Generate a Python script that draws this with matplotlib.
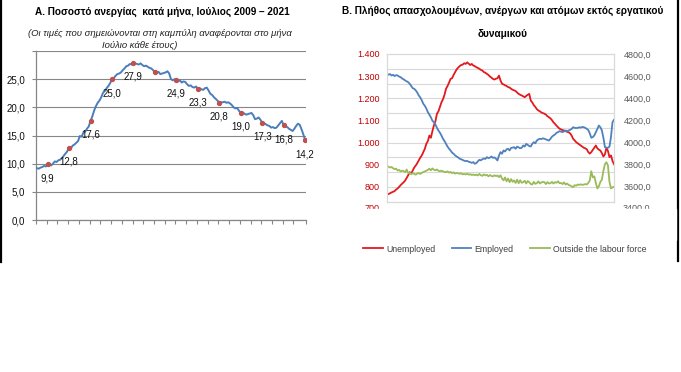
import matplotlib.pyplot as plt
import numpy as np
from matplotlib.lines import Line2D
from matplotlib.patches import Rectangle
from matplotlib.ticker import FuncFormatter

plt.rcParams["font.family"] = ["Liberation Sans", "DejaVu Sans"]

# Panel A: monthly unemployment rate (%), Jan 2009 - Jul 2021
UNEMPLOYMENT_RATE = [
    9.2, 9.1, 9.3, 9.4, 9.6, 9.5, 9.9, 9.8, 9.7, 10.0, 10.4, 10.3,
    10.6, 10.7, 11.0, 11.4, 11.8, 12.2, 12.8, 12.7, 13.2, 13.4, 13.7, 14.0,
    14.9, 14.8, 15.5, 15.7, 16.2, 16.6, 17.6, 18.4, 19.4, 20.2, 20.8, 21.2,
    21.8, 22.6, 22.9, 23.4, 23.8, 24.3, 25.0, 25.2, 25.6, 25.9, 26.0, 26.2,
    26.6, 26.9, 27.3, 27.4, 27.7, 27.6, 27.9, 27.8, 27.7, 27.6, 27.8, 27.5,
    27.3, 27.4, 27.2, 27.0, 26.9, 26.6, 26.2, 26.1, 26.3, 25.9, 26.0, 26.1,
    26.2, 26.4, 26.0, 25.0, 24.8, 25.0, 24.9, 24.6, 24.8, 24.4, 24.6, 24.5,
    24.1, 23.8, 23.9, 23.6, 23.5, 23.7, 23.3, 23.4, 23.2, 23.1, 23.4, 23.5,
    23.0, 22.4, 22.2, 21.8, 21.5, 21.2, 20.8, 20.9, 20.9, 21.0, 20.8, 20.9,
    20.7, 20.4, 20.0, 19.8, 19.9, 19.4, 19.0, 19.1, 18.9, 18.7, 18.8, 18.9,
    19.0, 18.6, 17.9, 18.0, 18.2, 17.8, 17.3, 17.2, 17.0, 16.8, 16.7, 16.4,
    16.5, 16.3, 16.4, 16.8, 17.2, 17.6, 16.8, 16.6, 16.5, 16.2, 16.0, 15.8,
    16.2, 16.7, 17.1, 16.9, 16.1, 15.2, 14.2,
]
JULY_INDEX = list(range(6, 151, 12))
LABELLED_YEARS = [2009, 2010, 2011, 2012, 2013, 2015, 2016, 2017, 2018, 2019, 2020, 2021]

# Panel B: thousands of persons, same months
UNEMPLOYED = [
    762, 765, 768, 772, 775, 778, 785, 790, 797, 805, 812, 818,
    826, 838, 850, 864, 858, 872, 885, 894, 905, 918, 930, 940,
    955, 970, 993, 1005, 1030, 1020, 1050, 1076, 1095, 1129, 1140, 1160,
    1181, 1195, 1215, 1242, 1255, 1270, 1287, 1290, 1305, 1317, 1330, 1338,
    1345, 1350, 1352, 1358, 1355, 1362, 1356, 1350, 1355, 1348, 1345, 1340,
    1337, 1333, 1328, 1325, 1318, 1315, 1310, 1305, 1298, 1293, 1287, 1284,
    1288, 1290, 1302, 1280, 1265, 1262, 1258, 1255, 1250, 1248, 1242, 1238,
    1235, 1232, 1225, 1219, 1215, 1212, 1208, 1204, 1210, 1215, 1219, 1189,
    1180, 1168, 1160, 1150, 1144, 1140, 1135, 1132, 1129, 1125, 1118, 1113,
    1108, 1100, 1090, 1083, 1075, 1068, 1061, 1058, 1055, 1053, 1050, 1047,
    1045, 1040, 1030, 1015, 1008, 1000, 995, 990, 985, 980, 975, 972,
    968, 955, 948, 955, 965, 975, 985, 972, 966, 962, 950, 935,
    945, 975, 960, 932, 940, 915, 900,
]
EMPLOYED = [
    4620, 4612, 4618, 4605, 4611, 4600, 4608, 4605, 4595, 4590, 4578, 4570,
    4560, 4552, 4544, 4530, 4510, 4490, 4484, 4470, 4450, 4424, 4405, 4380,
    4348, 4330, 4305, 4272, 4250, 4225, 4195, 4181, 4160, 4130, 4106, 4085,
    4060, 4031, 4010, 3985, 3960, 3940, 3925, 3905, 3895, 3880, 3870, 3862,
    3850, 3845, 3838, 3832, 3828, 3830, 3822, 3819, 3812, 3819, 3804, 3810,
    3825, 3840, 3835, 3845, 3852, 3848, 3864, 3855, 3860, 3870, 3858, 3862,
    3850, 3834, 3880, 3910, 3895, 3925, 3915, 3935, 3940, 3925, 3948, 3950,
    3955, 3940, 3960, 3952, 3945, 3949, 3970, 3960, 3985, 3975, 3965, 3961,
    3985, 4000, 3990, 4015, 4025, 4031, 4028, 4035, 4031, 4025, 4020, 4015,
    4030, 4050, 4061, 4070, 4085, 4091, 4100, 4095, 4091, 4098, 4106, 4100,
    4106, 4112, 4120, 4136, 4130, 4128, 4130, 4135, 4132, 4138, 4136, 4130,
    4121, 4110, 4080, 4040, 4046, 4061, 4090, 4120, 4151, 4135, 4106, 4040,
    3955, 3950, 3949, 3960, 4046, 4181, 4203,
]
OUTSIDE_LABOUR_FORCE = [
    3782, 3778, 3770, 3775, 3764, 3755, 3760, 3743, 3748, 3735, 3742, 3737,
    3728, 3752, 3719, 3722, 3710, 3718, 3713, 3705, 3716, 3719, 3712, 3722,
    3728, 3735, 3742, 3748, 3759, 3745, 3762, 3750, 3745, 3752, 3740, 3737,
    3742, 3735, 3730, 3728, 3735, 3724, 3730, 3719, 3726, 3715, 3720, 3718,
    3713, 3718, 3708, 3712, 3707, 3715, 3705, 3710, 3702, 3707, 3700, 3706,
    3698, 3712, 3700, 3695, 3708, 3698, 3704, 3690, 3702, 3694, 3689, 3700,
    3692, 3698, 3683, 3700, 3670, 3653, 3680, 3645, 3670, 3637, 3665, 3640,
    3653, 3630, 3660, 3628, 3655, 3632, 3637, 3650, 3625, 3648, 3637, 3620,
    3616, 3640, 3622, 3628, 3645, 3625, 3635, 3640, 3637, 3620, 3638, 3625,
    3628, 3640, 3625, 3637, 3632, 3645, 3628, 3630, 3620, 3635, 3616, 3625,
    3612, 3607, 3600, 3592, 3610, 3605, 3616, 3612, 3618, 3613, 3615, 3620,
    3616, 3630, 3653, 3737, 3680, 3690, 3630, 3580, 3600, 3640, 3660, 3740,
    3800, 3818, 3790, 3640, 3580, 3590, 3595,
]
SERIES_NAMES = ["Unemployed", "Employed", "Outside the labour force"]

LEFT_TICKS_A = [0, 5, 10, 15, 20, 25, 30]
LEFT_TICKS_B = [800, 900, 1000, 1100, 1200, 1300, 1400]
RIGHT_TICKS_B = [3600, 3800, 4000, 4200, 4400, 4600, 4800]

TITLE_A = "Α. Ποσοστό ανεργίας  κατά μήνα, Ιούλιος 2009 – 2021"
NOTE_A_1 = "(Οι τιμές που σημειώνονται στη καμπύλη αναφέρονται στο μήνα"
NOTE_A_2 = "Ιούλιο κάθε έτους)"
TITLE_B_1 = "Β. Πλήθος απασχολουμένων, ανέργων και ατόμων εκτός εργατικού"
TITLE_B_2 = "δυναμικού"

W, H = 681, 372


def fx(px):
    return px / W


def fy(py):
    return 1 - py / H


def comma(v, pos=None):
    return f"{v:.1f}".replace(".", ",")


def thousands_dot(v, pos=None):
    return f"{int(round(v)):,}".replace(",", ".")


fig = plt.figure(figsize=(W / 100, H / 100), dpi=100)

# ---------- panel A ----------
rate = np.array(UNEMPLOYMENT_RATE)
months = np.arange(len(rate))

axA = fig.add_axes([fx(36), fy(220), fx(270), 169 / H])
axA.plot(months, rate, color="#4A7EBB", lw=1.4, zorder=3)
axA.plot(months[JULY_INDEX], rate[JULY_INDEX], "o", ms=2.8, color="#C0504D", zorder=4)

july_years = list(range(2009, 2022))
for idx, year in zip(JULY_INDEX, july_years):
    if year in LABELLED_YEARS:
        axA.annotate(comma(rate[idx]), (months[idx], rate[idx]),
                     xytext=(0, -14), textcoords="offset pixels",
                     ha="center", va="center", fontsize=7, color="#111111")

axA.set_xlim(-0.5, len(rate) - 0.5)
axA.set_ylim(0, 30)
axA.set_yticks(LEFT_TICKS_A)
axA.set_yticklabels([comma(v) if v < 30 else "" for v in LEFT_TICKS_A])
xt = list(np.arange(-0.5, len(rate) - 6, 6)) + [len(rate) - 0.5]
axA.set_xticks(xt)
axA.set_xticklabels([])
axA.grid(axis="y", color="#868686", lw=0.8)
axA.set_axisbelow(True)
for side in ["top", "right"]:
    axA.spines[side].set_visible(False)
for side in ["left", "bottom"]:
    axA.spines[side].set_color("#868686")
    axA.spines[side].set_linewidth(0.9)
axA.tick_params(axis="both", direction="out", length=3, color="#868686",
                labelsize=7, labelcolor="#111111", pad=5)

fig.text(fx(162), fy(12), TITLE_A, ha="center", va="center",
         fontsize=7.2, fontweight="bold")
fig.text(fx(160), fy(33), NOTE_A_1, ha="center", va="center",
         fontsize=6.8, style="italic", color="#222222")
fig.text(fx(140), fy(45), NOTE_A_2, ha="center", va="center",
         fontsize=6.8, style="italic", color="#222222")

# ---------- panel B ----------
xb = np.arange(len(UNEMPLOYED))
lo_left, hi_left = 730, 1400
lo_right, hi_right = 3460, 4800

axB = fig.add_axes([fx(387), fy(201.7), fx(227), 147.7 / H])
axB2 = axB.twinx()

l1, = axB.plot(xb, UNEMPLOYED, color="#E3191E", lw=1.3)
l2, = axB2.plot(xb, EMPLOYED, color="#4F81BD", lw=1.3)
l3, = axB2.plot(xb, OUTSIDE_LABOUR_FORCE, color="#9BBB59", lw=1.3)

axB.set_xlim(0, len(xb) - 1)
axB.set_ylim(lo_left, hi_left)
axB2.set_ylim(lo_right, hi_right)
axB.set_xticks([])

axB.set_yticks(LEFT_TICKS_B)
axB.yaxis.set_major_formatter(FuncFormatter(thousands_dot))
axB.set_yticks(np.linspace(lo_left, hi_left, 11), minor=True)
axB.grid(which="minor", axis="y", color="#D9D9D9", lw=0.8)
axB.grid(which="major", visible=False)
axB.tick_params(axis="y", which="both", length=0, labelsize=6.5,
                labelcolor="#C00000", pad=5)

axB2.set_yticks(RIGHT_TICKS_B)
axB2.yaxis.set_major_formatter(FuncFormatter(comma))
axB2.tick_params(axis="y", length=0, labelsize=6.5, labelcolor="#595959", pad=7)

for ax in (axB, axB2):
    for sp in ax.spines.values():
        sp.set_color("#D9D9D9")
        sp.set_linewidth(0.8)

# bottom labels partly cut off in the source image
axB.text(-0.031, 700, thousands_dot(700), transform=axB.get_yaxis_transform(),
         ha="right", va="center", fontsize=6.5, color="#C00000", clip_on=False)
axB2.text(1.04, 3400, comma(3400), transform=axB2.get_yaxis_transform(),
          ha="left", va="center", fontsize=6.5, color="#595959", clip_on=False)
fig.add_artist(Rectangle((fx(340), fy(240)), fx(336), 31.5 / H,
                         transform=fig.transFigure, color="white", zorder=10))

fig.text(fx(503), fy(11), TITLE_B_1, ha="center", va="center",
         fontsize=7.2, fontweight="bold")
fig.text(fx(503), fy(34), TITLE_B_2, ha="center", va="center",
         fontsize=7.2, fontweight="bold")

fig.legend([l1, l2, l3], SERIES_NAMES, loc="center", bbox_to_anchor=(fx(505), fy(249)),
           ncol=3, frameon=False, fontsize=6.3, handlelength=2.2,
           columnspacing=1.9, handletextpad=0.4, labelcolor="#404040")

# black frame lines at the sides
fig.add_artist(Line2D([fx(1), fx(1)], [fy(0), fy(262)], color="black", lw=1.6))
fig.add_artist(Line2D([fx(678), fx(678)], [fy(0), fy(261)], color="black", lw=1.6))

fig.savefig("out.png", dpi=100)
